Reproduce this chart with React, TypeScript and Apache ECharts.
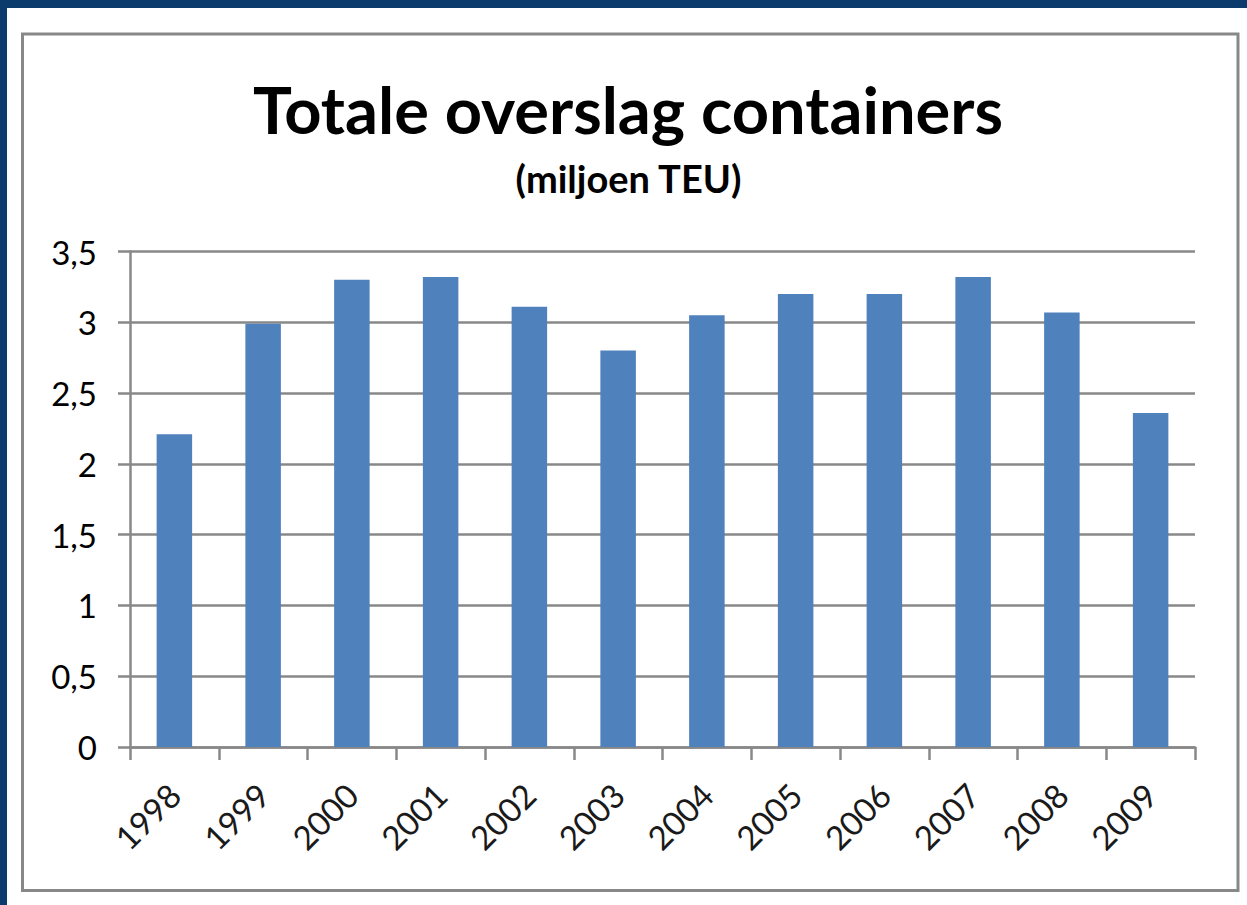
import React, { useEffect, useRef } from "react";
import * as echarts from "echarts";

const years = ["1998", "1999", "2000", "2001", "2002", "2003", "2004", "2005", "2006", "2007", "2008", "2009"];
const teu = [2.21, 2.99, 3.3, 3.32, 3.11, 2.8, 3.05, 3.2, 3.2, 3.32, 3.07, 2.36];
const titleText = "Totale overslag containers";
const subtitleText = "(miljoen TEU)";

const GRAY = "#888888";
const NAVY = "#0b3a6d";
const FONT = "Lato, 'Liberation Sans', sans-serif";

export default function App() {
  const ref = useRef<HTMLDivElement>(null);
  useEffect(() => {
    if (!ref.current) return;
    const chart = echarts.init(ref.current, undefined, { renderer: "svg" });
    chart.setOption({
      animation: false,
      backgroundColor: "#ffffff",
      graphic: [
        { type: "rect", left: 0, top: 0, shape: { width: 1247, height: 8 }, style: { fill: NAVY }, silent: true, z: -10 },
        { type: "rect", left: 0, top: 0, shape: { width: 7, height: 905 }, style: { fill: NAVY }, silent: true, z: -10 },
        {
          type: "rect",
          shape: { x: 22.5, y: 34, width: 1215.5, height: 856.5 },
          style: { fill: "none", stroke: GRAY, lineWidth: 3 },
          silent: true,
          z: -5,
        },
        {
          type: "text",
          x: 628,
          y: 109,
          style: {
            text: titleText,
            fontFamily: FONT,
            fontWeight: "bold",
            fontSize: 65,
            fill: "#000",
            align: "center",
            verticalAlign: "middle",
          },
        },
        {
          type: "text",
          x: 628.5,
          y: 178,
          style: {
            text: subtitleText,
            fontFamily: FONT,
            fontWeight: "bold",
            fontSize: 38,
            fill: "#000",
            align: "center",
            verticalAlign: "middle",
          },
        },
      ],
      grid: { left: 130, right: 52, top: 251.5, bottom: 158, containLabel: false },
      xAxis: {
        type: "category",
        data: years,
        axisLine: { show: true, lineStyle: { color: GRAY, width: 2.5 } },
        axisTick: { show: true, length: 13, lineStyle: { color: GRAY, width: 2.5 } },
        axisLabel: {
          rotate: 45,
          margin: 42,
          fontFamily: FONT,
          fontSize: 33,
          color: "#1a1a1a",
          interval: 0,
        },
        splitLine: { show: false },
      },
      yAxis: {
        type: "value",
        min: 0,
        max: 3.5,
        interval: 0.5,
        axisLine: { show: true, lineStyle: { color: GRAY, width: 2.5 } },
        axisTick: { show: true, length: 12, lineStyle: { color: GRAY, width: 2.5 } },
        axisLabel: {
          margin: 33,
          fontFamily: FONT,
          fontSize: 33,
          color: "#000",
          formatter: (v: number) => String(v).replace(".", ","),
        },
        splitLine: { show: true, lineStyle: { color: GRAY, width: 2.5 } },
      },
      series: [
        {
          type: "bar",
          data: teu,
          barCategoryGap: "60%",
          itemStyle: { color: "#4f81bd" },
        },
      ],
    });
    return () => chart.dispose();
  }, []);
  return <div ref={ref} style={{ position: "absolute", left: 0, top: 0, width: 1247, height: 905 }} />;
}
